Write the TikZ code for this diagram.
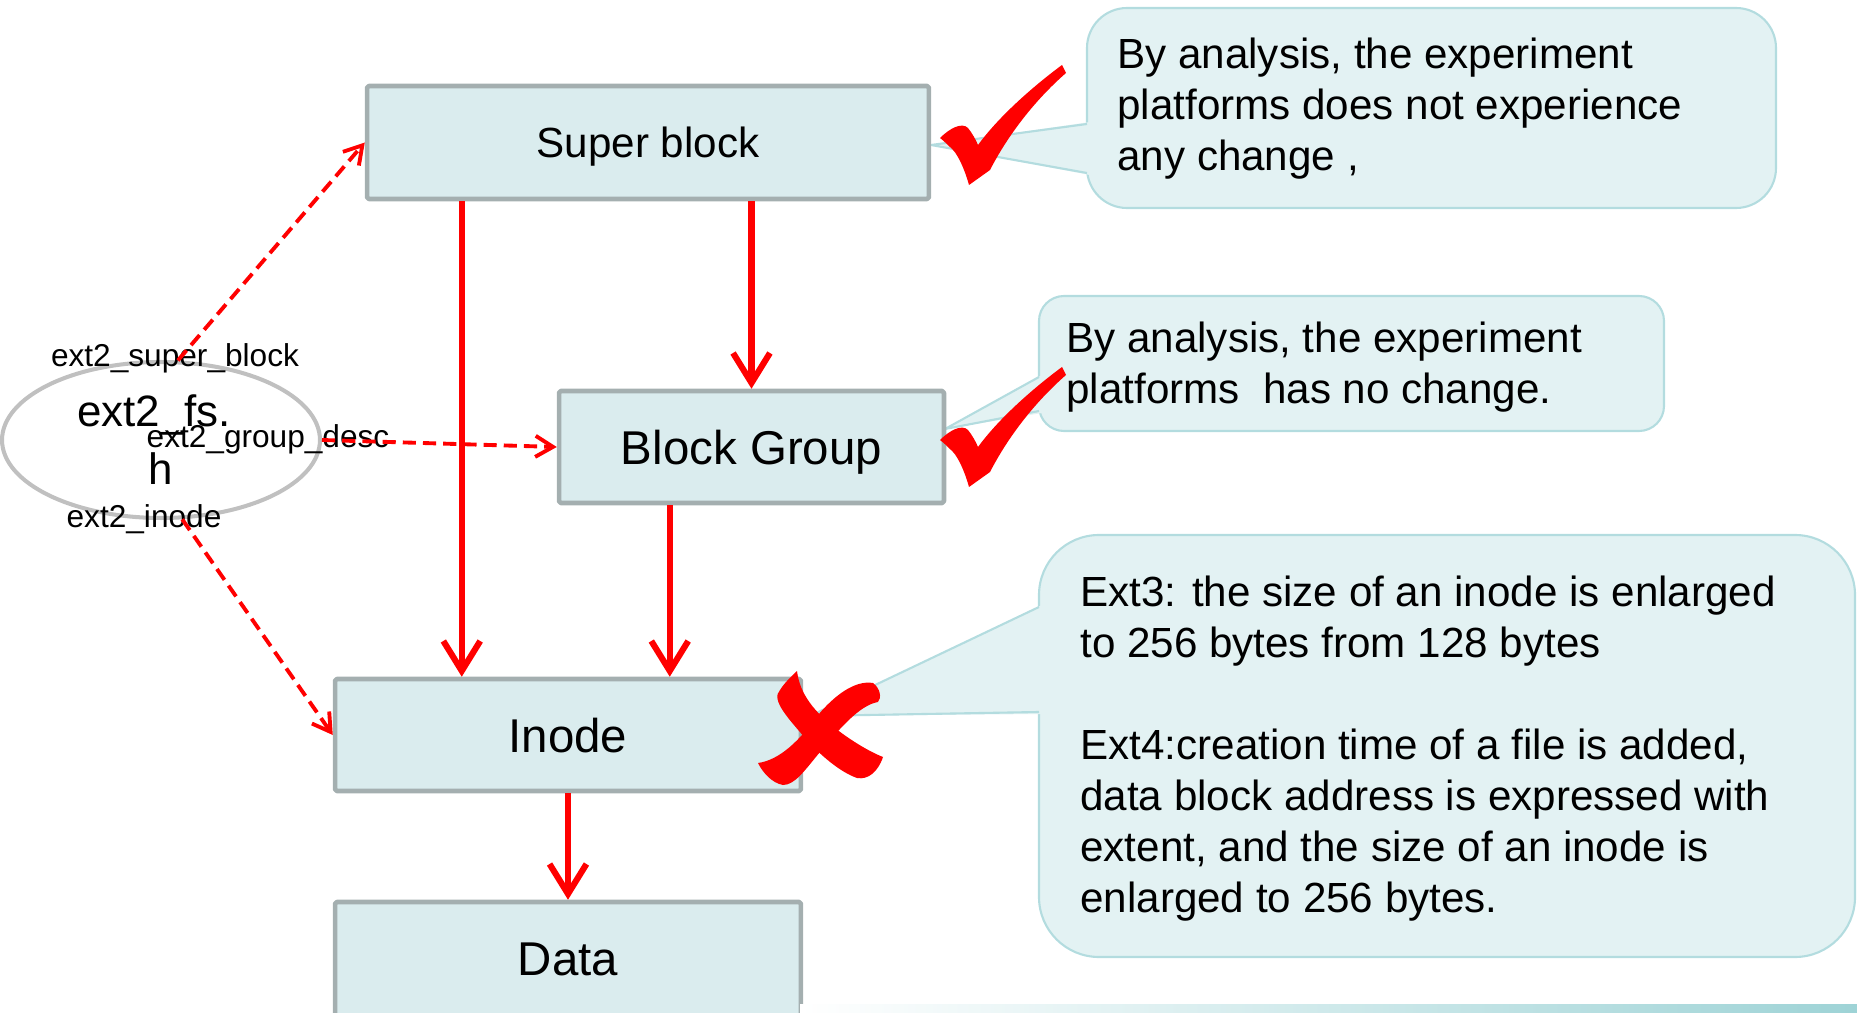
\documentclass[tikz,border=0pt]{standalone}
\usepackage{fontspec}
\setmainfont{Liberation Sans}
\usetikzlibrary{positioning,calc,shapes.geometric,arrows.meta}

\definecolor{boxfill}{HTML}{DAECEE}
\definecolor{boxline}{HTML}{A4AFB0}
\definecolor{tipfill}{HTML}{E3F2F3}
\definecolor{tipline}{HTML}{B3DCDF}
\definecolor{ovalline}{HTML}{C0C0C0}
\definecolor{stripcol}{HTML}{9ED3D6}

\begin{document}
\begin{tikzpicture}[x=0.02cm, y=-0.02cm, line join=round]
	\useasboundingbox (0,0) rectangle (1857,1013);
	
	% ===== styles =====
	\tikzset{
		blk/.style={draw=boxline, fill=boxfill, line width=2.6pt, rounded corners=1pt, minimum height=2.24cm, inner sep=0pt, text depth=0pt},
		flow/.style={draw=red, line width=3.5pt, -{Straight Barb[length=17pt,width=21pt]}},
		link/.style={draw=red, line width=2.2pt, dash pattern=on 7.5pt off 4pt, -{Straight Barb[length=10pt,width=12pt]}},
		note/.style={draw=tipline, fill=tipfill, line width=1.2pt},
		notetxt/.style={anchor=north west, inner sep=0pt, align=left, font=\fontsize{24}{29}\selectfont},
		lbl/.style={font=\fontsize{18}{20}\selectfont, inner sep=0pt, anchor=base}
	}
	
	% ===== callouts =====
	\draw[note, rounded corners=0.8cm] (1087,8) rectangle (1776,208);
	\fill[tipfill] (931,145) -- (1090,122) -- (1090,175) -- cycle;
	\draw[tipline, line width=1.2pt] (1087,124) -- (931,145) -- (1087,173);
	
	\draw[note, rounded corners=0.5cm] (1039,296) rectangle (1664,431);
	\fill[tipfill] (945,429) -- (1042,375) -- (1042,413) -- cycle;
	\draw[tipline, line width=1.2pt] (1039,377) -- (945,429) -- (1039,411);
	
	\draw[note, rounded corners=1.2cm] (1039,535) rectangle (1855,957);
	\fill[tipfill] (810,716) -- (1042,605) -- (1042,714) -- cycle;
	\draw[tipline, line width=1.2pt] (1039,607) -- (810,716) -- (1039,712);
	
	\node[notetxt] (t1) at (1117,38) {By analysis, the experiment\\platforms does not experience\\any change ,};
	\node[notetxt] (t2) at (1066,322) {By analysis, the experiment\\platforms\ \ has no change.};
	\node[notetxt] (t3) at (1080,576) {Ext3: the size of an inode is enlarged\\to 256 bytes from 128 bytes\\[29pt]Ext4:creation time of a file is added,\\data block address is expressed with\\extent, and the size of an inode is\\enlarged to 256 bytes.};
	
	% ===== boxes =====
	\node[blk, minimum width=11.24cm, minimum height=2.26cm, font=\fontsize{24}{28}\selectfont] (sblk) at (648,142.5) {Super block};
	\node[blk, minimum width=7.7cm, font=\fontsize{27}{32}\selectfont] (bgrp) at (751.5,447) {Block Group};
	\node[blk, minimum width=9.32cm, font=\fontsize{27}{32}\selectfont] (inode) at (568,735) {Inode};
	\node[blk, minimum width=9.32cm, minimum height=2.3cm, font=\fontsize{27}{32}\selectfont] (data) at (568,959.5) {Data};
	
	% ===== ext2_fs.h =====
	\node[ellipse, draw=ovalline, line width=2.3pt, minimum width=6.36cm, minimum height=3.12cm, inner sep=0pt, align=center, font=\fontsize{25}{33}\selectfont] (fs) at (161,440) {ext2\_fs.\kern0.28cm\\h};
	\node[lbl] (lsb) at (175,367) {ext2\_super\_block};
	\node[lbl] (lgd) at (268,448) {ext2\_group\_desc};
	\node[lbl] (lin) at (144,527) {ext2\_inode};
	
	% ===== arrows =====
	\coordinate (c1) at ($(sblk.south west)+(97,0)$);
	\coordinate (c2) at ($(bgrp.south west)+(113,0)$);
	\draw[flow] (c1) -- (c1 |- inode.north);
	\draw[flow] (sblk.south -| bgrp.north) -- (bgrp.north);
	\draw[flow] (c2) -- (c2 |- inode.north);
	\draw[flow] (inode.south) -- (data.north);
	
	\draw[link] (fs.78) -- (sblk.west);
	\draw[link] (fs.east) -- (bgrp.west);
	\draw[link] (fs.-75) -- (inode.west);
	
	% ===== ticks and cross =====
	\foreach \dy in {0,302}{
		\fill[red, shift={(0,\dy)}] (940,138) .. controls (950,128) and (962,122) .. (968,128)
			.. controls (972,133) and (976,140) .. (978,145)
			.. controls (1000,115) and (1035,85) .. (1062,65) -- (1066,73)
			.. controls (1035,100) and (1008,135) .. (990,170) -- (969,185)
			.. controls (965,170) and (958,155) .. (953,150)
			.. controls (948,145) and (944,141) .. cycle;
	}
	\fill[red] (797,671) .. controls (800,695) and (815,712) .. (835,728)
		.. controls (850,740) and (870,752) .. (883,757)
		.. controls (878,772) and (868,780) .. (857,778)
		.. controls (840,772) and (820,755) .. (805,738)
		.. controls (790,720) and (770,700) .. (780,690)
		.. controls (785,682) and (792,676) .. cycle;
	\fill[red] (873,683) .. controls (880,688) and (882,698) .. (878,702)
		.. controls (860,705) and (840,728) .. (820,752)
		.. controls (805,770) and (795,785) .. (783,785)
		.. controls (772,783) and (763,773) .. (758,763)
		.. controls (780,760) and (800,740) .. (818,715)
		.. controls (835,695) and (855,680) .. cycle;
	
	% ===== bottom strip =====
	\shade[left color=white, right color=stripcol] (800,1004) rectangle (1857,1013);
\end{tikzpicture}
\end{document}
